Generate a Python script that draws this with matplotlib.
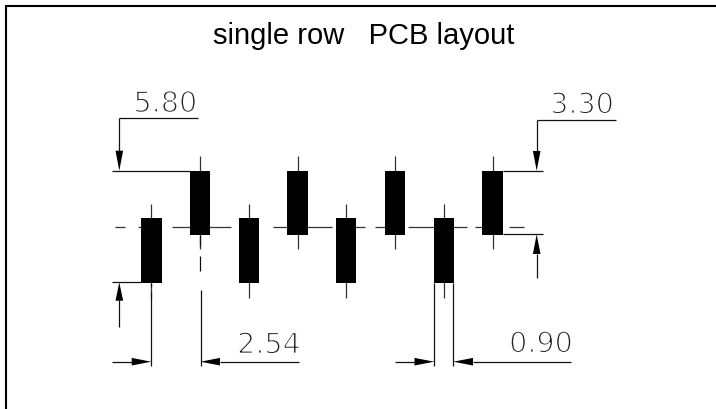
import matplotlib
matplotlib.use('Agg')
import matplotlib.pyplot as plt
import matplotlib.patheffects as pe

# everything is measured in picture pixels, the axes just span the image
W, H = 716, 410

title = 'single row   PCB layout'
pins_up = [200, 297.7, 395, 492.6]
pins_down = [151.3, 249, 346, 443.8]
pad_width = 20.6
pad_up = (171.7, 236)
pad_down = (219.3, 283.7)
tail_up = (156.7, 250)
tail_down = (205.3, 298.7)

centre_y = 227.7
centre_dashes = [(115, 125), (138, 150), (172, 230.7), (243, 255), (273, 331.7),
                 (340, 365), (375, 388), (408, 466.7), (475, 486), (509, 523.7)]

# (x0, y0, x1, y1)
dim_lines = [
    (119.3, 119.3, 198, 119.3), (119.3, 119.3, 119.3, 152),
    (112, 171.7, 190, 171.7),
    (112, 283.3, 141, 283.3), (119.3, 301, 119.3, 327.7),
    (112, 362.7, 132, 362.7), (220, 362.7, 299, 362.7),
    (151.3, 293, 151.3, 366.7), (200.5, 291, 200.5, 366.7),
    (200, 236, 200, 247), (200, 257, 200, 272),
    (151.3, 284, 151.3, 288),
    (536.7, 120.7, 616, 120.7), (536.7, 120.7, 536.7, 152),
    (503, 171.7, 543, 171.7), (503, 235.3, 543, 235.3),
    (536.7, 255, 536.7, 279.3),
    (434.3, 284, 434.3, 366.7), (453.3, 284, 453.3, 366.7),
    (395, 362.7, 415, 362.7), (473, 362.7, 571, 362.7),
]
# tip x, tip y, base x, base y
arrows = [
    (119.3, 171.7, 119.3, 151.7), (119.3, 283.3, 119.3, 301.7),
    (151.3, 362.7, 131.7, 362.7), (200.5, 362.7, 220, 362.7),
    (536.7, 171.7, 536.7, 152), (536.7, 235.3, 536.7, 255),
    (434.3, 362.7, 414.5, 362.7), (453.3, 362.7, 473, 362.7),
]
dim_labels = ['5.80', '2.54', '3.30', '0.90']
dim_x = [165.5, 269, 582, 541]
dim_y = [113, 354.3, 114.3, 353.3]

fig = plt.figure(figsize=(7.16, 4.10), dpi=100)
ax = fig.add_axes([0, 0, 1, 1])
ax.set_xlim(0, W)
ax.set_ylim(H, 0)
ax.axis('off')

# frame: top and left only, it runs off the picture on the other two sides
ax.plot([W, 6, 6], [7, 7, H], color='black', lw=1.5, solid_capstyle='butt', solid_joinstyle='miter')

ax.text(364, 43.5, title, family='Liberation Sans', fontsize=21, ha='center', va='baseline')

for a, b in centre_dashes:
    ax.plot([a, b], [centre_y, centre_y], color='#333333', lw=0.9, solid_capstyle='butt')

for x in pins_up:
    ax.plot([x, x], tail_up, color='#333333', lw=0.9, solid_capstyle='butt')
    ax.fill_between([x - pad_width / 2, x + pad_width / 2], pad_up[0], pad_up[1], color='black', lw=0, zorder=3)
for x in pins_down:
    ax.plot([x, x], tail_down, color='#333333', lw=0.9, solid_capstyle='butt')
    ax.fill_between([x - pad_width / 2, x + pad_width / 2], pad_down[0], pad_down[1], color='black', lw=0, zorder=3)

for x0, y0, x1, y1 in dim_lines:
    ax.plot([x0, x1], [y0, y1], color='#111111', lw=0.9, solid_capstyle='butt')

for tx, ty, bx, by in arrows:
    # arrow head is a thin triangle
    if tx == bx:
        ax.fill([tx, bx - 3.8, bx + 3.8], [ty, by, by], color='black', lw=0, zorder=3)
    else:
        ax.fill([tx, bx, bx], [ty, by - 3.8, by + 3.8], color='black', lw=0, zorder=3)

for s, x, y in zip(dim_labels, dim_x, dim_y):
    ax.text(x, y, s, fontsize=20.6, color='#222222', ha='center', va='baseline', zorder=4,
            path_effects=[pe.Stroke(linewidth=1.0, foreground='white')])

fig.savefig('out.png', dpi=100)
